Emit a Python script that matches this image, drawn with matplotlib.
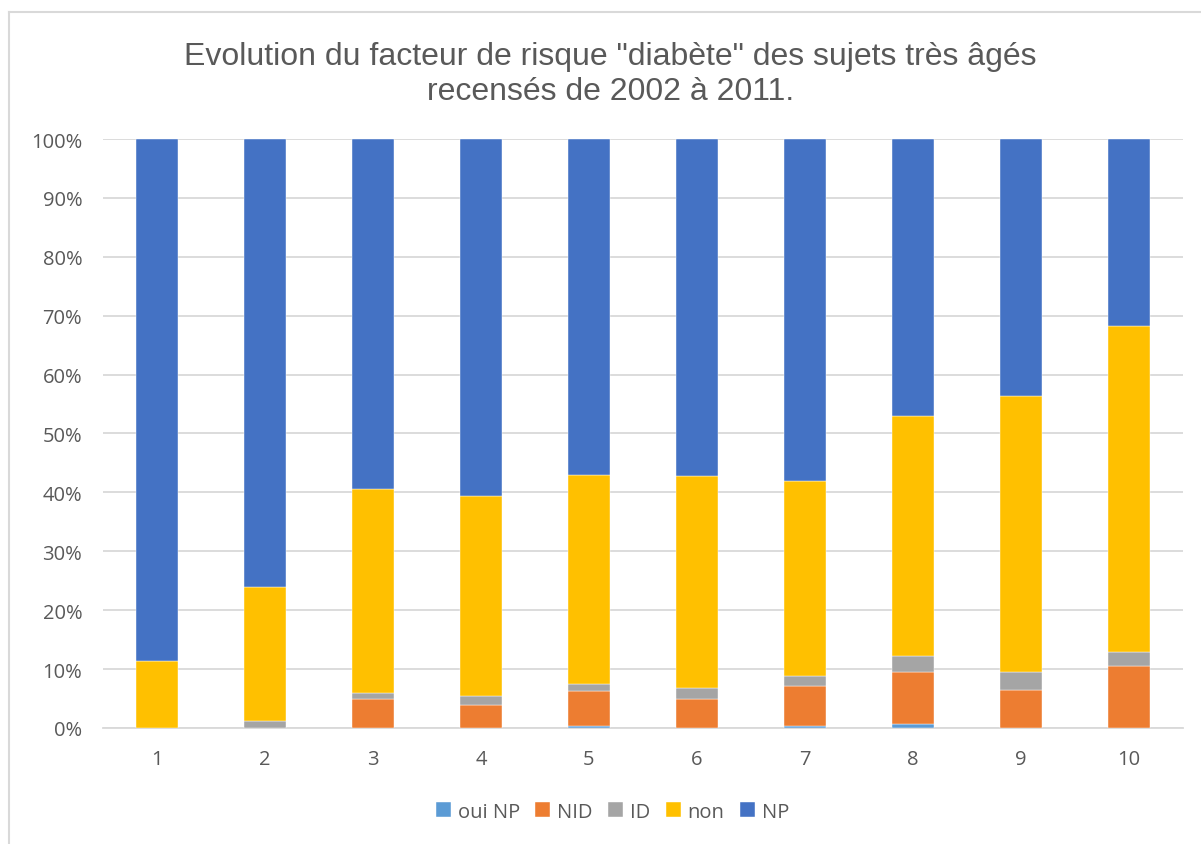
import matplotlib.pyplot as plt
import numpy as np
from matplotlib.ticker import FuncFormatter

years = [1, 2, 3, 4, 5, 6, 7, 8, 9, 10]
oui_np = [0.0, 0.0, 0.0, 0.0, 0.4, 0.0, 0.3, 0.6, 0.0, 0.0]
nid = [0.0, 0.0, 5.0, 3.9, 5.8, 5.0, 6.8, 8.9, 6.5, 10.5]
id_ = [0.0, 1.2, 1.0, 1.6, 1.2, 1.8, 1.7, 2.8, 3.0, 2.4]
non = [11.4, 22.8, 34.6, 33.9, 35.6, 36.0, 33.1, 40.7, 46.9, 55.4]
np_ = [88.6, 76.0, 59.4, 60.6, 57.0, 57.2, 58.1, 47.0, 43.6, 31.7]

series = [("oui NP", oui_np, "#5B9BD5"), ("NID", nid, "#ED7D31"),
          ("ID", id_, "#A5A5A5"), ("non", non, "#FFC000"), ("NP", np_, "#4472C4")]

fig = plt.figure(figsize=(12.01, 8.45), dpi=100)
ax = fig.add_axes([0.0858, 0.1373, 0.899, 0.697])

x = np.arange(len(years))
bottom = np.zeros(len(years))
for name, vals, col in series:
    vals = np.array(vals) / 100.0
    ax.bar(x, vals, 0.39, bottom=bottom, color=col, label=name, zorder=3,
           edgecolor="white", linewidth=0.3)
    bottom += vals

ax.set_xlim(-0.5, len(years) - 0.5)
ax.set_ylim(0, 1)
ax.set_yticks(np.arange(0, 1.01, 0.1))
ax.yaxis.set_major_formatter(FuncFormatter(lambda y, _: '{:.0%}'.format(y)))
ax.set_xticks(x)
ax.set_xticklabels([str(y) for y in years])
ax.grid(axis="y", color="#D9D9D9", linewidth=1.3, zorder=0)
for s in ["top", "right", "left"]:
    ax.spines[s].set_visible(False)
ax.spines["bottom"].set_color("#D9D9D9")
ax.spines["bottom"].set_linewidth(1.3)
ax.tick_params(axis="both", length=0, labelsize=14.5, colors="#595959",
               labelfontfamily="Open Sans")
ax.tick_params(axis="x", pad=15)
ax.tick_params(axis="y", pad=15)

fig.suptitle('Evolution du facteur de risque "diabète" des sujets très âgés\nrecensés de 2002 à 2011.',
             x=0.508, y=0.950, fontsize=23, color="#595959", family="Liberation Sans",
             linespacing=1.22)

fig.legend(loc="center", bbox_to_anchor=(0.51, 0.038), ncol=5, frameon=False,
           handlelength=0.75, handleheight=0.75, handletextpad=0.35,
           columnspacing=0.75, labelcolor="#595959", prop={"family": "Open Sans", "size": 14.5})

# chart border (only left and top edges visible in the reference)
fig.add_artist(plt.Line2D([9 / 1201, 9 / 1201], [0, 1 - 13 / 845], transform=fig.transFigure,
                          color="#D9D9D9", linewidth=1.5))
fig.add_artist(plt.Line2D([9 / 1201, 1], [1 - 13 / 845, 1 - 13 / 845], transform=fig.transFigure,
                          color="#D9D9D9", linewidth=1.5))

plt.savefig("out.png", dpi=100)
